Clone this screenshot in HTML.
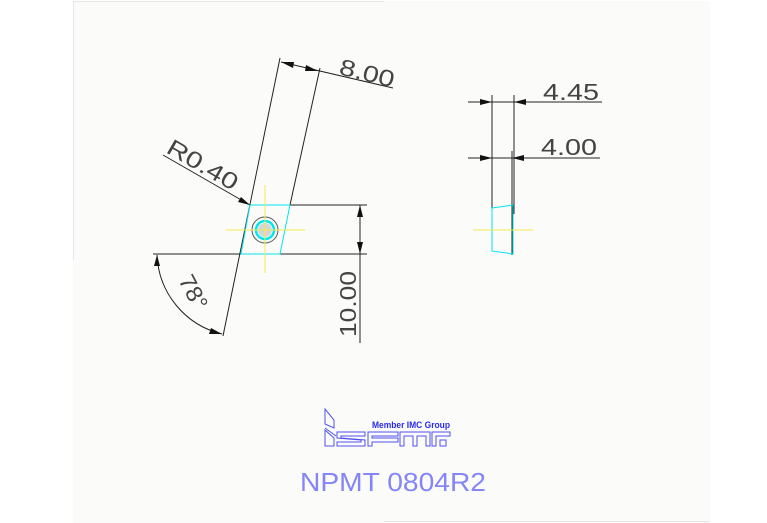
<!DOCTYPE html>
<html><head><style>
html,body{margin:0;padding:0;background:#fff;}
svg{display:block}
</style></head><body>
<svg width="767" height="523" viewBox="0 0 767 523" xmlns="http://www.w3.org/2000/svg" font-family="Liberation Sans, sans-serif">
<rect x="0" y="0" width="767" height="523" fill="#ffffff"/>
<rect x="73" y="1" width="637" height="522" fill="#fbfcf9"/>
<line x1="73" y1="1.5" x2="384" y2="1.5" stroke="#e6e6e6"/>
<line x1="73.5" y1="1" x2="73.5" y2="260" stroke="#e6e6e6"/>
<g stroke="#222" stroke-width="1" fill="none">
  <line x1="280" y1="58" x2="223" y2="336"/>
  <line x1="320" y1="68" x2="290" y2="205"/>
  <line x1="281" y1="62" x2="393" y2="88"/>
  <line x1="290" y1="205" x2="367" y2="205"/>
  <line x1="153" y1="254" x2="241" y2="254"/>
  <line x1="280" y1="254" x2="367" y2="254"/>
  <line x1="360" y1="205" x2="360" y2="343"/>
  <line x1="163" y1="155" x2="250" y2="205"/>
  <path d="M157,255 A85,85 0 0 0 222,334"/>
  <line x1="468" y1="102" x2="602" y2="102"/>
  <line x1="468" y1="158" x2="600" y2="158"/>
  <line x1="492" y1="95" x2="492" y2="208"/>
  <line x1="514" y1="95" x2="514" y2="214"/>
  <line x1="512" y1="151" x2="512" y2="255"/>
</g>
<g fill="#111">
  <polygon points="281,62 294,62 293,68"/>
  <polygon points="318,71 305,71 306,65"/>
  <polygon points="360,205 357,217 363,217"/>
  <polygon points="360,254 357,242 363,242"/>
  <polygon points="250,205 238,202 241,197"/>
  <polygon points="157,255 154,266 160,266"/>
  <polygon points="222,334 211,328 209,334"/>
  <polygon points="492,102 480,99 480,105"/>
  <polygon points="514,102 526,99 526,105"/>
  <polygon points="492,158 480,155 480,161"/>
  <polygon points="512,158 524,155 524,161"/>
</g>
<g fill="#444" font-size="23" style="font-weight:100">
  <text transform="translate(338,74) rotate(14)" textLength="56" lengthAdjust="spacingAndGlyphs">8.00</text>
  <text transform="translate(165,152) rotate(30)" textLength="78" lengthAdjust="spacingAndGlyphs">R0.40</text>
  <text transform="translate(356,337) rotate(-90)" textLength="66" lengthAdjust="spacingAndGlyphs">10.00</text>
  <text transform="translate(178,280) rotate(62)" textLength="36" lengthAdjust="spacingAndGlyphs">78°</text>
  <text x="543" y="100" textLength="56" lengthAdjust="spacingAndGlyphs">4.45</text>
  <text x="541" y="155" textLength="56" lengthAdjust="spacingAndGlyphs">4.00</text>
</g>
<g stroke="#00e5ee" fill="none" stroke-width="1">
  <path d="M250,205 L290,205 L280,254 L241,254 Z"/>
  <circle cx="265" cy="230" r="9" stroke-width="2.5"/>
  <path d="M492,208 L513,205 L513,254 L492,251 Z"/>
</g>
<circle cx="265" cy="230" r="13" fill="none" stroke="#555"/>
<circle cx="265" cy="230" r="7" fill="#bbb" opacity="0.6"/>
<g stroke="#f2ec50" stroke-width="1">
  <line x1="226" y1="230" x2="305" y2="230"/>
  <line x1="265" y1="185" x2="265" y2="273"/>
  <line x1="473" y1="230" x2="533" y2="230"/>
</g>
<g stroke="#5050f0" fill="none" stroke-width="1">
  <path d="M325,409 L334,420 L334,428 L325,424 Z"/>
  <path d="M325,430 L334,438 L334,446 L325,446 Z"/>
  <path d="M325,428 L336,436"/>
  <path d="M337,432 L365,432 L365,436 L341,436 L341,438 L365,440 L365,446 L337,446 L337,442 L361,442 L361,440 L337,438 Z"/>
  <path d="M368,432 L398,432 L398,436 L372,436 L372,438 L398,438 L398,442 L372,442 L372,446 L368,446 Z"/>
  <path d="M400,446 L400,432 L430,432 L430,446 L426,446 L426,436 L417,436 L417,446 L413,446 L413,436 L404,436 L404,446 Z"/>
  <path d="M432,446 L432,432 L450,432 L450,436 L436,436 L436,446 Z"/>
  <path d="M440,440 L446,440 L446,446 L440,446 Z"/>
</g>
<text x="372" y="428" font-size="9.5" font-weight="bold" fill="#2a2af0" textLength="78" lengthAdjust="spacingAndGlyphs">Member IMC Group</text>
<text x="300" y="491" font-size="26" fill="#8585f5" style="font-weight:100" textLength="186" lengthAdjust="spacingAndGlyphs">NPMT 0804R2</text>
<line x1="384" y1="521.5" x2="710" y2="521.5" stroke="#e6e6e6"/>
</svg>
</body></html>
